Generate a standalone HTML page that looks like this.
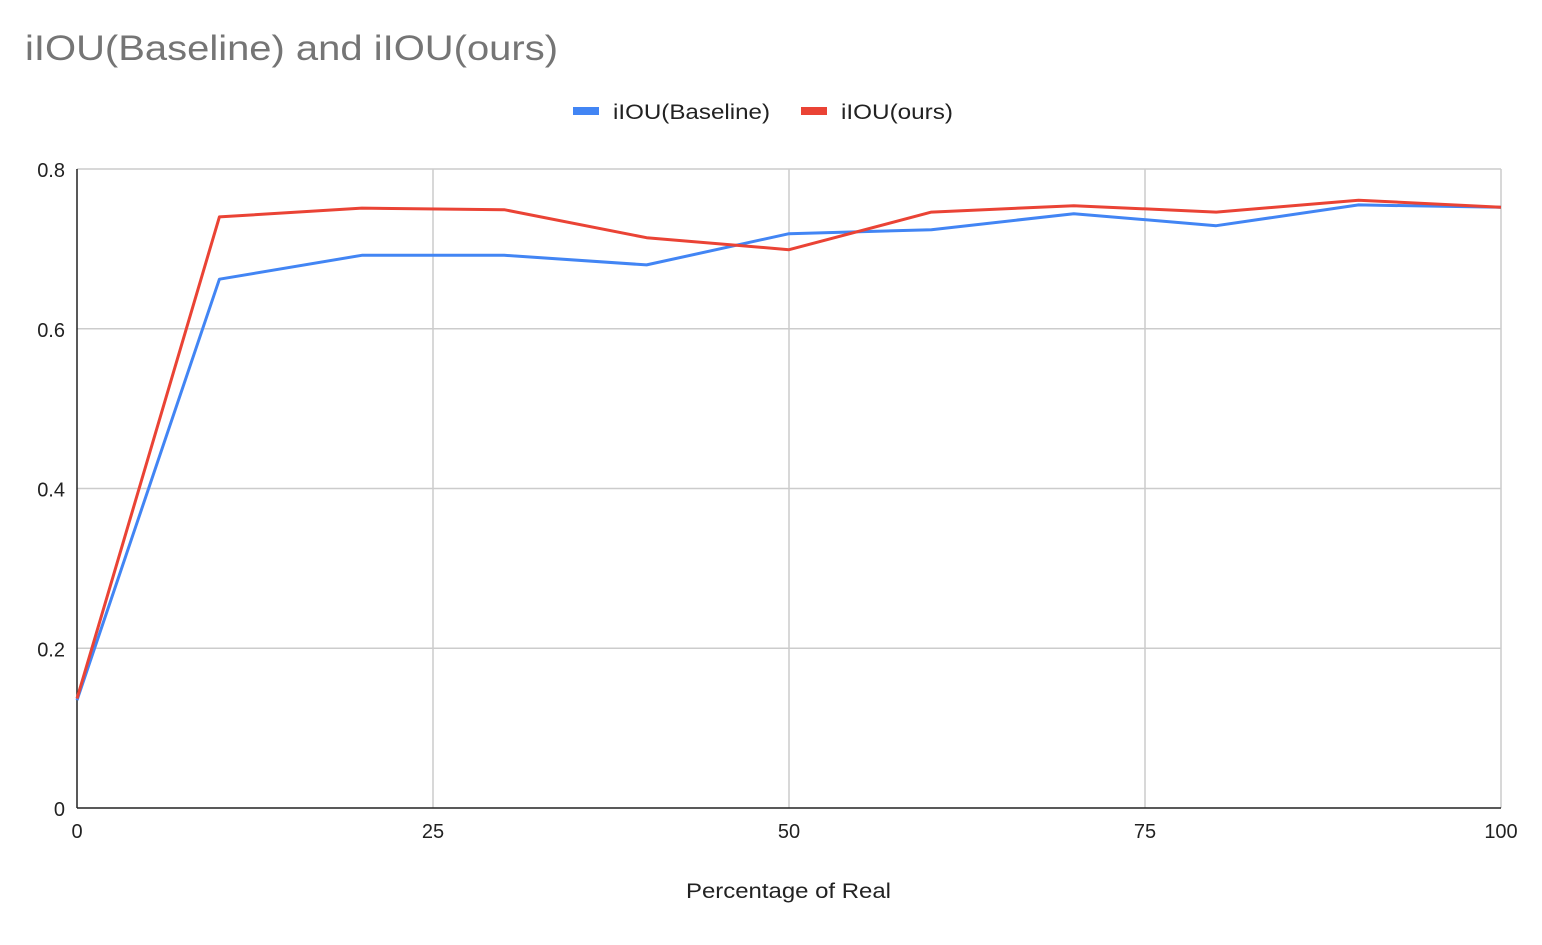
<!DOCTYPE html>
<html><head><meta charset="utf-8"><style>
html,body{margin:0;padding:0;background:#fff;}
svg text{font-family:"Liberation Sans",Arial,sans-serif;}
</style></head><body>
<svg id="chart" width="1542" height="940" xmlns="http://www.w3.org/2000/svg">
<rect width="1542" height="940" fill="#fff"/>
<text x="25" y="60" font-size="35" fill="#757575" textLength="533" lengthAdjust="spacingAndGlyphs">iIOU(Baseline) and iIOU(ours)</text>
<g>
 <g><rect x="573" y="107" width="26" height="8" fill="#4285f4"/><text x="613" y="119" font-size="21" fill="#222" textLength="157" lengthAdjust="spacingAndGlyphs">iIOU(Baseline)</text></g>
 <g><rect x="801" y="107" width="26" height="8" fill="#ea4335"/><text x="841" y="119" font-size="21" fill="#222" textLength="112" lengthAdjust="spacingAndGlyphs">iIOU(ours)</text></g>
</g>
<g id="grid"></g>
<g id="axes"></g>
<g id="series"></g>
<text x="686" y="898" font-size="21" fill="#222" textLength="205" lengthAdjust="spacingAndGlyphs">Percentage of Real</text>
</svg>
<script>
const xValues = [0,10,20,30,40,50,60,70,80,90,100];
const baseline = [0.135,0.662,0.692,0.692,0.680,0.719,0.724,0.744,0.729,0.755,0.752];
const ours = [0.137,0.740,0.751,0.749,0.714,0.699,0.746,0.754,0.746,0.761,0.752];
const xTicks = [0,25,50,75,100];
const yTicks = [0,0.2,0.4,0.6,0.8];
const yTickLabels = ["0","0.2","0.4","0.6","0.8"];

const NS="http://www.w3.org/2000/svg";
const X0=77,X1=1501,Y0=808,Y1=169;
const sx=v=>X0+(v-0)/(100-0)*(X1-X0);
const sy=v=>Y0-(v-0)/(0.8-0)*(Y0-Y1);
function mk(tag,attrs,parent){const e=document.createElementNS(NS,tag);for(const k in attrs)e.setAttribute(k,attrs[k]);parent.appendChild(e);return e;}
const grid=document.getElementById('grid'),axes=document.getElementById('axes'),series=document.getElementById('series');
yTicks.forEach((t,i)=>{
  if(t>0){const l=mk('line',{x1:X0,x2:X1,y1:sy(t),y2:sy(t),stroke:'#ccc','stroke-width':1.5},grid);
  
  }
  const tx=mk('text',{x:65,y:sy(t)+8,'font-size':20,fill:'#222','text-anchor':'end'},axes);
  tx.textContent=yTickLabels[i];
  
  
});
xTicks.forEach(t=>{
  if(t>0){const l=mk('line',{x1:sx(t),x2:sx(t),y1:Y1,y2:Y0,stroke:'#ccc','stroke-width':1.5},grid);
  
  }
  const tx=mk('text',{x:sx(t),y:838,'font-size':20,fill:'#222','text-anchor':'middle'},axes);
  tx.textContent=String(t);
  
  
});
const ax=mk('line',{x1:X0,x2:X0,y1:Y1,y2:Y0,stroke:'#222','stroke-width':1.5},axes);


const bx=mk('line',{x1:X0,x2:X1,y1:Y0,y2:Y0,stroke:'#222','stroke-width':1.5},axes);


function line(vals,color,name){
  const d=vals.map((v,i)=>(i?'L':'M')+sx(xValues[i]).toFixed(1)+' '+sy(v).toFixed(1)).join(' ');
  const p=mk('path',{d:d,fill:'none',stroke:color,'stroke-width':3,'stroke-linejoin':'round'},series);
  
  
}
line(baseline,'#4285f4','line-baseline');
line(ours,'#ea4335','line-ours');
</script>
</body></html>
